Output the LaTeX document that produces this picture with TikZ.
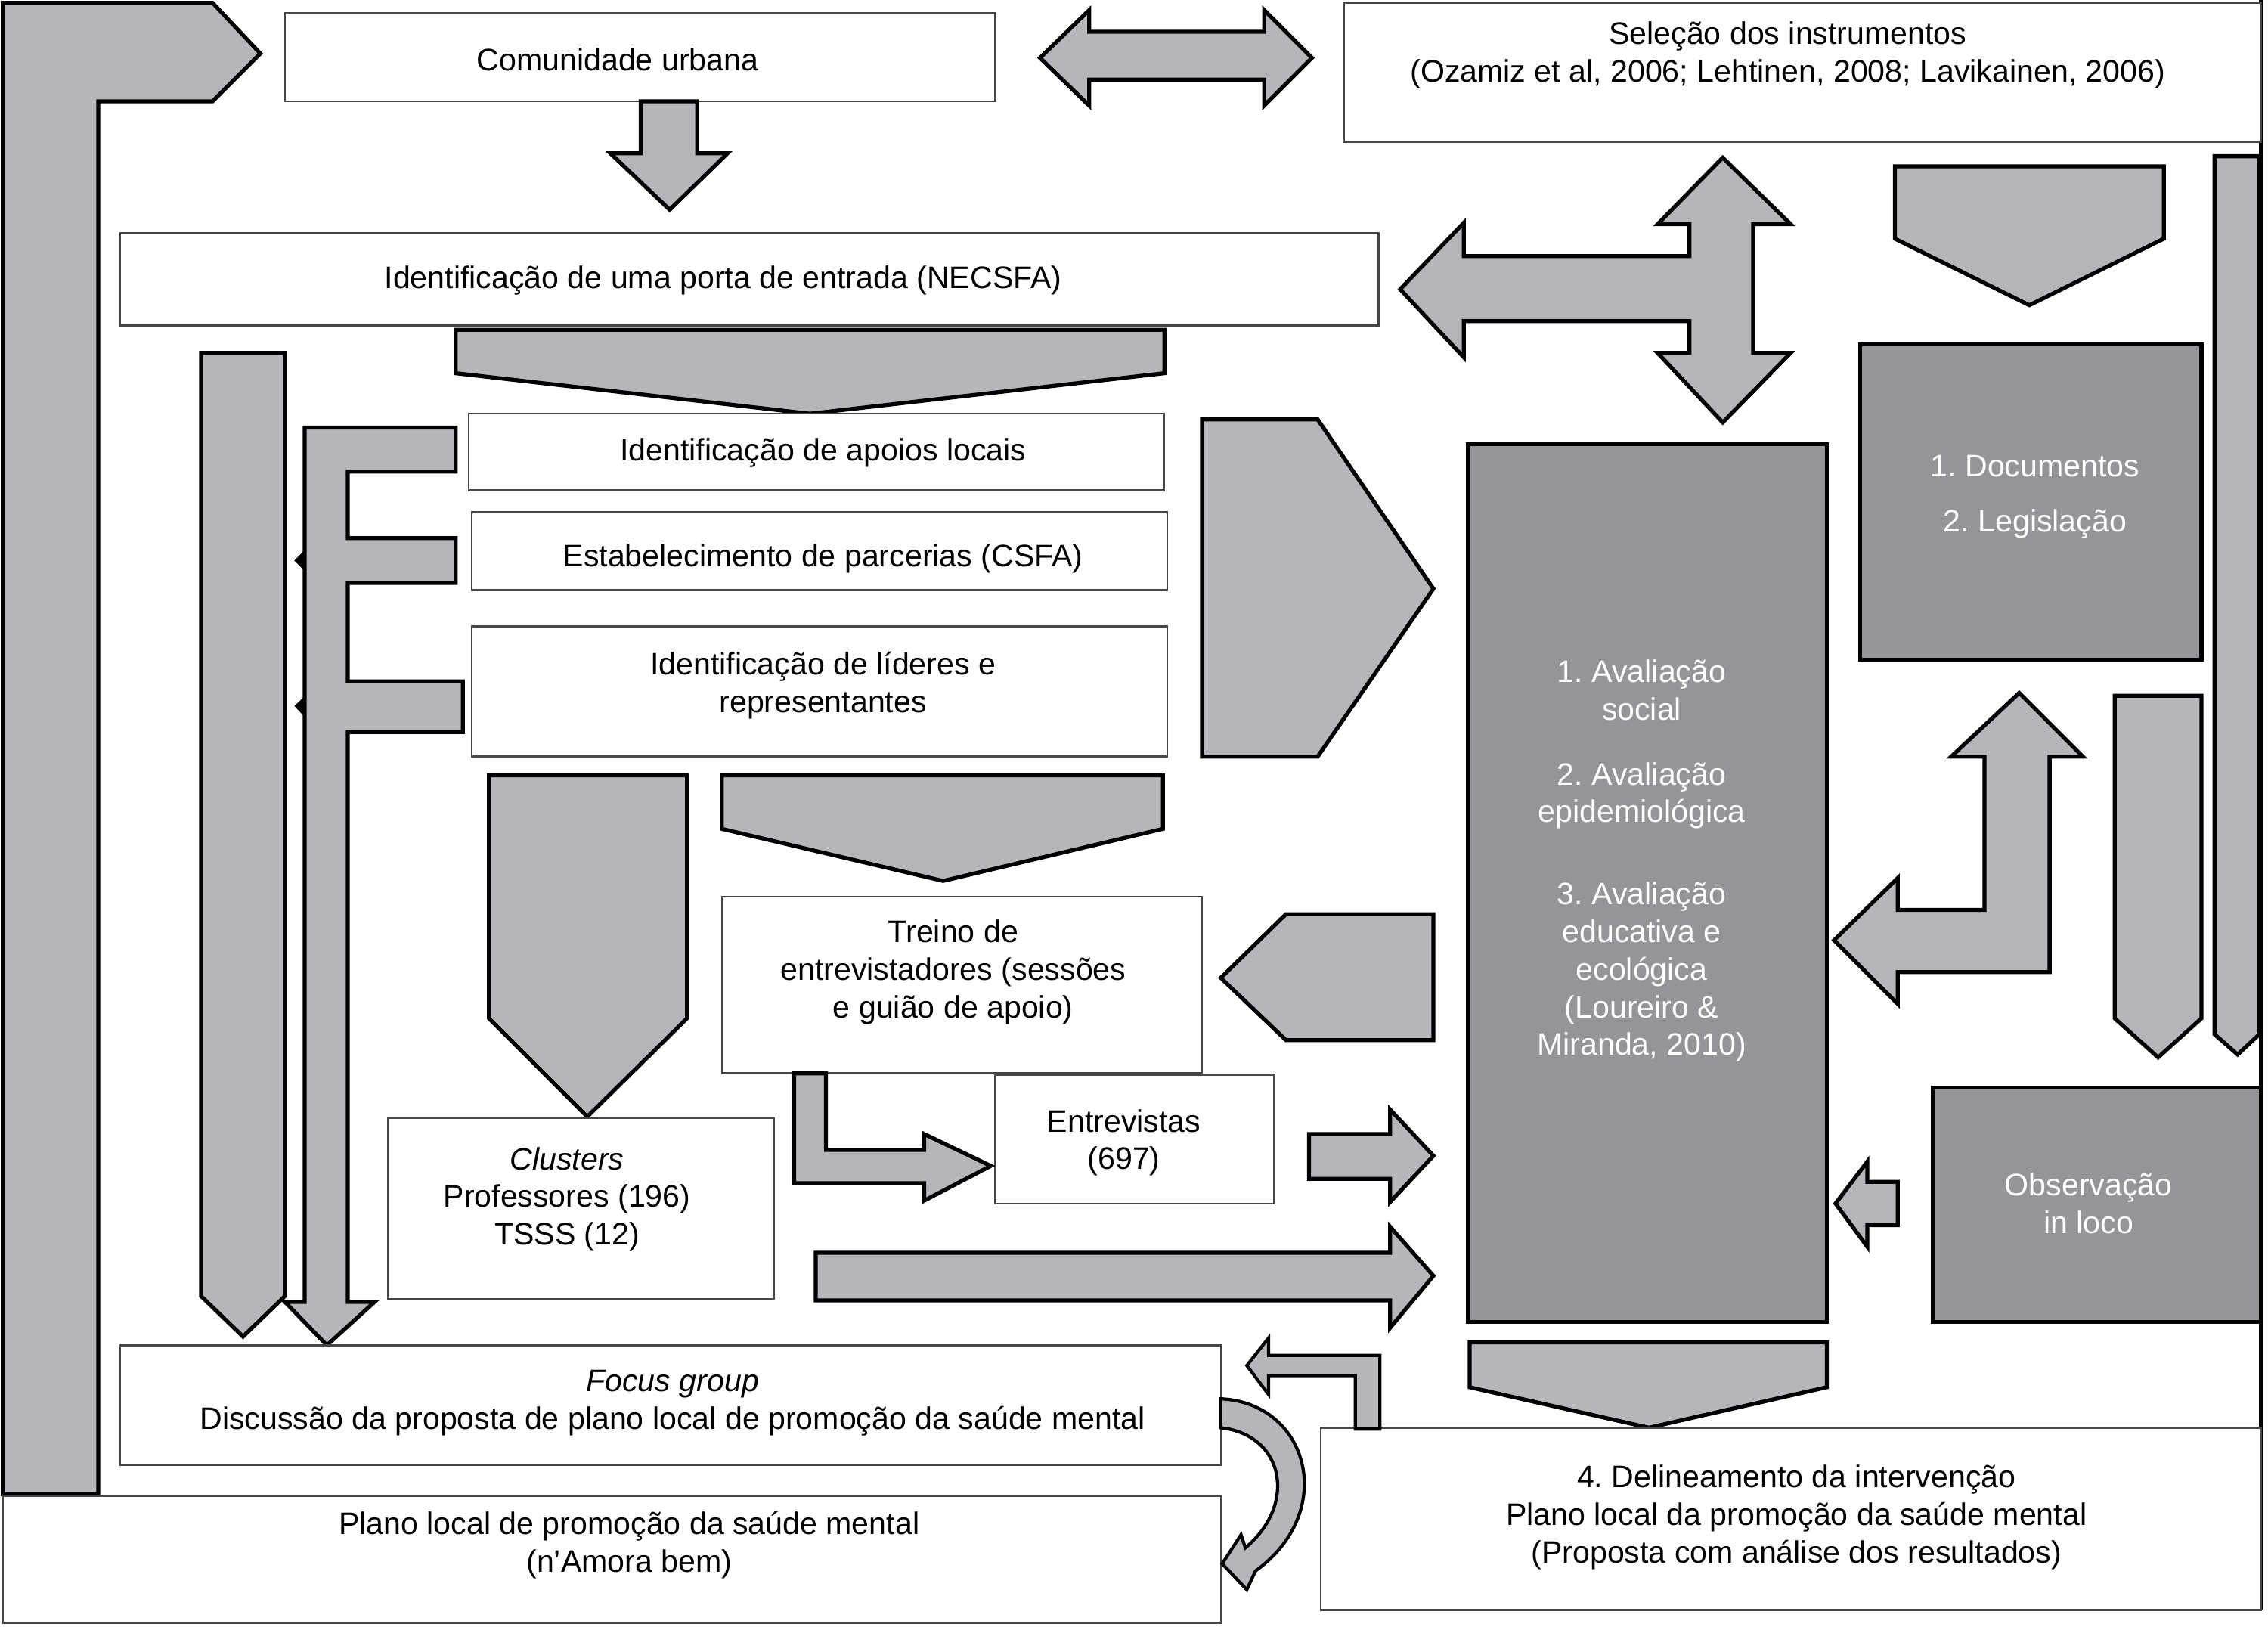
\documentclass[tikz,border=0pt]{standalone}
\usepackage{fontspec}
\setmainfont{Liberation Sans}
\usetikzlibrary{fit}
\definecolor{lg}{RGB}{180,182,185}
\definecolor{dg}{RGB}{147,149,152}
\definecolor{bx}{RGB}{70,70,70}
\frenchspacing
\begin{document}
\begin{tikzpicture}[x=0.019133cm,y=-0.019133cm,
  blk/.style={fill=lg,draw=black,line width=1.5pt,line join=miter},
  wbox/.style={draw=bx,line width=0.7pt,fill=white,inner sep=0pt},
  dbox/.style={draw=black,line width=1.5pt,fill=dg,inner sep=0pt},
  txt/.style={font=\fontsize{11.7}{14.15}\selectfont,align=center,inner sep=0pt},
  wtxt/.style={txt,text=white}]
\useasboundingbox (0,0) rectangle (1568,1124.26);

% right border line
\draw[line width=1.2pt] (1563,0) -- (1563,1113);

% big L shape top-left
\draw[blk] (2,2) -- (147,2) -- (180,37) -- (147,70) -- (68,70) -- (68,1033) -- (2,1033) -- cycle;

% Comunidade urbana
\node[wbox, fit={(197,9) (688,70)}] (comu) {};
\node[txt] (comut) at (427,41) {Comunidade urbana};

% down arrow below comunidade
\draw[blk] (443,70) -- (482,70) -- (482,106) -- (503,106) -- (463,145) -- (422,106) -- (443,106) -- cycle;

% double arrow
\draw[blk] (719,40) -- (753,7) -- (753,22) -- (874,22) -- (874,7) -- (907,40) -- (874,73) -- (874,55) -- (753,55) -- (753,73) -- cycle;

% Selecao
\node[wbox, fit={(929,2) (1563,98)}] (sel) {};
\node[txt] (selt) at (1236,38) {Seleção dos instrumentos\\(Ozamiz et al, 2006; Lehtinen, 2008; Lavikainen, 2006)};

% NECSFA
\node[wbox, fit={(83,161) (953,225)}] (nec) {};
\node[txt] (nect) at (500,194) {Identificação de uma porta de entrada (NECSFA)};

% T arrow
\draw[blk] (1191,109) -- (1238,155) -- (1212,155) -- (1212,244) -- (1238,244) -- (1191,292) -- (1146,244) -- (1168,244) -- (1168,222) -- (1012,222) -- (1012,247) -- (968,200) -- (1012,154) -- (1012,177) -- (1168,177) -- (1168,155) -- (1146,155) -- cycle;

% down pentagon top right
\draw[blk] (1310,115) -- (1496,115) -- (1496,165) -- (1403,211) -- (1310,165) -- cycle;

% Documentos
\node[dbox, fit={(1286,238) (1522,456)}] (doc) {};
\node[wtxt] (doct1) at (1407,322) {1. Documentos};
\node[wtxt] (doct2) at (1407,362) {2. Legislação};

% far right tall arrow
\draw[blk] (1531,108) -- (1562,108) -- (1562,715) -- (1547,729) -- (1531,715) -- cycle;

% right down arrow
\draw[blk] (1462,481) -- (1522,481) -- (1522,704) -- (1492,731) -- (1462,704) -- cycle;

% L arrow up to documentos and left to big box
\draw[blk] (1396,479) -- (1440,523) -- (1417,523) -- (1417,672) -- (1312,672) -- (1312,694) -- (1268,650) -- (1312,607) -- (1312,629) -- (1372,629) -- (1372,523) -- (1349,523) -- cycle;

% big box
\node[dbox, fit={(1015,307) (1263,914)}] (aval) {};
\node[wtxt] (av1) at (1135,477) {1. Avaliação\\social};
\node[wtxt] (av2) at (1135,550) {2. Avaliação\\epidemiológica};
\node[wtxt] (av3) at (1135,672) {3. Avaliação\\educativa e\\ecológica\\(Loureiro \&\\Miranda, 2010)};

% pentagon right
\draw[blk] (831,290) -- (911,290) -- (991,407) -- (911,523) -- (831,523) -- cycle;

% big down pentagon below NECSFA
\draw[blk] (315,228) -- (805,228) -- (805,258) -- (560,286) -- (315,258) -- cycle;

% left boxes
\node[wbox, fit={(324,286) (805,339)}] (apo) {};
\node[txt] (apot) at (569,313) {Identificação de apoios locais};
\node[wbox, fit={(326,354) (807,408)}] (par) {};
\node[txt] (part) at (569,386) {Estabelecimento de parcerias (CSFA)};
\node[wbox, fit={(326,433) (807,523)}] (lid) {};
\node[txt] (lidt) at (569,474) {Identificação de líderes e\\representantes};

% left arrows
\draw[blk] (139,244) -- (197,244) -- (197,896) -- (168,924) -- (139,896) -- cycle;
\draw[blk] (210.6,295.6) -- (315,295.6) -- (315,326) -- (240.4,326) -- (240.4,372) -- (315,372) -- (315,403) -- (240.4,403) -- (240.4,471) -- (320,471) -- (320,506) -- (240.4,506) -- (240.4,900) -- (259,900) -- (226,930) -- (197,900) -- (210.6,900) -- cycle;
\fill (210,381) -- (203.5,387.5) -- (210,394) -- cycle;
\fill (210,482) -- (203.5,488) -- (210,495) -- cycle;

% pentagons above Treino / Clusters
\draw[blk] (338,536) -- (475,536) -- (475,704) -- (406,772) -- (338,704) -- cycle;
\draw[blk] (499,536) -- (804,536) -- (804,573) -- (652,609) -- (499,573) -- cycle;

% Treino
\node[wbox, fit={(499,620) (831,742)}] (tre) {};
\node[txt] (tret) at (659,672) {Treino de\\entrevistadores (sessões\\e guião de apoio)};

% Clusters
\node[wbox, fit={(268,773) (535,898)}] (clu) {};
\node[txt] (clut) at (392,829) {\textit{Clusters}\\Professores (196)\\TSSS (12)};

% Entrevistas
\node[wbox, fit={(688,743) (881,832)}] (ent) {};
\node[txt] (entt) at (777,790) {Entrevistas\\(697)};

% L arrow treino -> entrevistas
\draw[blk] (549,742) -- (571,742) -- (571,795) -- (639,795) -- (639,784) -- (685,806) -- (639,830) -- (639,818) -- (549,818) -- cycle;

% right arrows to big box
\draw[blk] (905,784) -- (961,784) -- (961,767) -- (991,799) -- (961,831) -- (961,815) -- (905,815) -- cycle;
\draw[blk] (564,866) -- (961,866) -- (961,848) -- (991,882) -- (961,918) -- (961,899) -- (564,899) -- cycle;

% left pentagon toward treino
\draw[blk] (991,632) -- (889,632) -- (844,676) -- (889,719) -- (991,719) -- cycle;

% small left arrow from observacao
\draw[blk] (1312,817) -- (1291,817) -- (1291,803) -- (1269,832) -- (1291,862) -- (1291,847) -- (1312,847) -- cycle;

% Observacao
\node[dbox, fit={(1336,752) (1563,914)}] (obs) {};
\node[wtxt] (obst) at (1444,832) {Observação\\in loco};

% down pentagon below big box
\draw[blk] (1016,928) -- (1263,928) -- (1263,959) -- (1140,987) -- (1016,959) -- cycle;

% Delineamento
\node[wbox, fit={(913,987) (1563,1113)}] (del) {};
\node[txt] (delt) at (1242,1049) {4. Delineamento da intervenção\\Plano local da promoção da saúde mental\\(Proposta com análise dos resultados)};

% L arrow delineamento -> focus
\draw[blk,line width=1.2pt] (954,988) -- (937,988) -- (937,951) -- (877,951) -- (877,964) -- (862,944) -- (877,925) -- (877,937) -- (954,937) -- cycle;

% Focus group
\node[wbox, fit={(83,930) (844,1013)}] (foc) {};
\node[txt] (foct) at (465,970) {\textit{Focus group}\\Discussão da proposta de plano local de promoção da saúde mental};

% Plano local
\node[wbox, fit={(2,1034) (844,1122)}] (pla) {};
\node[txt] (plat) at (435,1068) {Plano local de promoção da saúde mental\\(n’Amora bem)};

% curved arrow focus -> plano
\draw[blk,line width=1.2pt] (844,967) .. controls (905,970) and (925,1045) .. (868,1086) -- (862,1099) -- (845,1081) -- (858,1061) -- (861,1070) .. controls (897,1040) and (888,992) .. (844,987) -- cycle;
\end{tikzpicture}
\end{document}
